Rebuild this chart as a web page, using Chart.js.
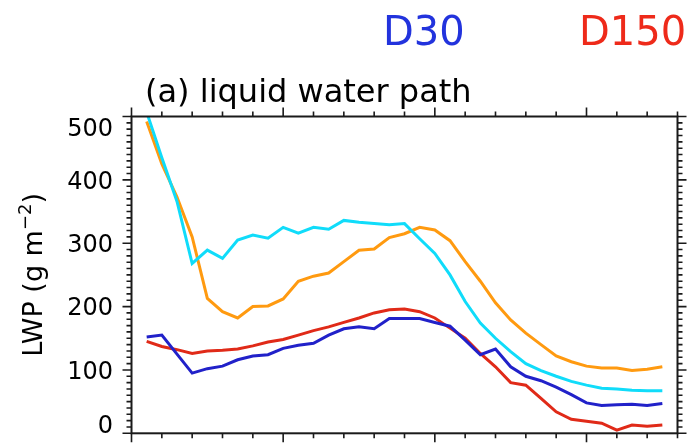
<!DOCTYPE html>
<html>
<head>
<meta charset="utf-8">
<script src="https://cdn.jsdelivr.net/npm/chart.js@4/dist/chart.umd.min.js"></script>
<style>
  html, body { margin: 0; padding: 0; background: #ffffff; }
  #wrap { width: 696px; height: 443px; position: relative; }
</style>
</head>
<body>
<div id="wrap"><canvas id="lwp" width="696" height="443"></canvas></div>
<script>
// Simulation time (h) of each sample
const hours = [1, 2, 3, 4, 5, 6, 7, 8, 9, 10, 11, 12, 13, 14, 15, 16, 17, 18,
               19, 20, 21, 22, 23, 24, 25, 26, 27, 28, 29, 30, 31, 32, 33, 34, 35];

// Liquid water path (g m-2)
const lwpD30 = [152, 155, 125, 95, 102, 106, 116, 122, 124, 134, 139, 142, 155, 165, 168, 165, 181, 181,
                181, 175, 169, 147, 124, 133, 105, 90, 83, 73, 61, 48, 44, 45, 46, 44, 47];
const lwpD150 = [145, 137, 132, 126, 130, 131, 133, 138, 144, 148, 155, 162, 168, 175, 182, 190, 195, 196,
                 192, 182, 166, 150, 126, 105, 80, 76, 55, 34, 22, 19, 16, 5, 13, 11, 13];
const lwpD30b = [507, 435, 366, 268, 289, 276, 305, 313, 308, 325, 316, 325, 322, 336, 333, 331, 329, 331,
                 307, 284, 250, 208, 174, 150, 129, 110, 99, 90, 82, 76, 71, 70, 68, 67, 67];
const lwpD150b = [492, 425, 373, 310, 213, 192, 182, 200, 201, 212, 240, 248, 253, 271, 289, 291, 309, 315,
                  325, 321, 304, 271, 240, 206, 179, 158, 140, 122, 113, 106, 103, 103, 99, 101, 105];

// Axis ticks
const yTickLabels = [0, 100, 200, 300, 400, 500];
const yMinorStep = 10;
const xMajorTicks = [0, 10, 20, 30];
const xMinorStep = 2;
const xRange = [0, 36];
const yRange = [0, 500];

const FONT = '"DejaVu Sans", sans-serif';

function points(values) {
  return hours.map((h, i) => ({ x: h, y: values[i] }));
}

// Frame with outward ticks on all four sides, tick labels, titles
const framePlugin = {
  id: 'frame',
  afterDraw(chart) {
    const ctx = chart.ctx;
    const a = chart.chartArea;
    const xs = chart.scales.x;
    const ys = chart.scales.y;
    const majorLen = 9, minorLen = 5;
    ctx.save();
    ctx.strokeStyle = '#1a1a1a';
    ctx.lineWidth = 2;
    ctx.strokeRect(a.left, a.top, a.right - a.left, a.bottom - a.top);

    ctx.lineWidth = 1.6;
    ctx.beginPath();
    for (let v = xRange[0]; v <= xRange[1]; v += xMinorStep) {
      const px = xs.getPixelForValue(v);
      const len = xMajorTicks.includes(v) ? majorLen : minorLen;
      ctx.moveTo(px, a.top); ctx.lineTo(px, a.top - len);
      ctx.moveTo(px, a.bottom); ctx.lineTo(px, a.bottom + len);
    }
    for (let v = yRange[0]; v <= yRange[1]; v += yMinorStep) {
      const py = ys.getPixelForValue(v);
      const len = yTickLabels.includes(v) ? majorLen : minorLen;
      ctx.moveTo(a.left, py); ctx.lineTo(a.left - len, py);
      ctx.moveTo(a.right, py); ctx.lineTo(a.right + len, py);
    }
    ctx.stroke();

    // y tick labels, end labels kept inside the axis span
    ctx.fillStyle = '#000';
    ctx.font = '24px ' + FONT;
    ctx.textAlign = 'right';
    ctx.textBaseline = 'alphabetic';
    const cap = 17.5;
    yTickLabels.forEach(v => {
      const py = ys.getPixelForValue(v);
      let base = py + cap / 2;
      if (v === yRange[1]) base = py + 2 + cap;
      if (v === yRange[0]) base = py;
      ctx.fillText(String(v), 113, base);
    });

    // panel title
    ctx.textAlign = 'left';
    ctx.font = '32px ' + FONT;
    ctx.fillText('(a) liquid water path', 145, 102);

    // run labels
    ctx.font = '40px ' + FONT;
    ctx.fillStyle = '#2233dd';
    ctx.fillText('D30', 383, 45);
    ctx.fillStyle = '#ee2a1a';
    ctx.fillText('D150', 579, 45);

    // y axis title with superscript exponent
    ctx.fillStyle = '#000';
    ctx.translate(41.5, (a.top + a.bottom) / 2);
    ctx.rotate(-Math.PI / 2);
    const mainFont = '27px ' + FONT, supFont = '18px ' + FONT;
    const parts = [
      { t: 'LWP (g m', f: mainFont, dy: 0 },
      { t: '\u22122', f: supFont, dy: -11 },
      { t: ')', f: mainFont, dy: 0 }
    ];
    let total = 0;
    parts.forEach(p => { ctx.font = p.f; p.w = ctx.measureText(p.t).width; total += p.w; });
    let x = -total / 2;
    parts.forEach(p => { ctx.font = p.f; ctx.fillText(p.t, x, p.dy); x += p.w; });
    ctx.restore();
  }
};

const lineStyle = { borderWidth: 3, pointRadius: 0, tension: 0, fill: false, clip: 0 };

new Chart(document.getElementById('lwp'), {
  type: 'line',
  data: {
    datasets: [
      { label: 'D30', data: points(lwpD30), borderColor: '#2121c9', ...lineStyle },
      { label: 'D150', data: points(lwpD150), borderColor: '#e02a18', ...lineStyle },
      { label: 'D30 b', data: points(lwpD30b), borderColor: '#10dcfa', ...lineStyle },
      { label: 'D150 b', data: points(lwpD150b), borderColor: '#ff9a10', ...lineStyle }
    ]
  },
  options: {
    responsive: false,
    animation: false,
    devicePixelRatio: 1,
    layout: { padding: { left: 131.5, right: 18.5, top: 116.5, bottom: 9.7 } },
    plugins: { legend: { display: false }, tooltip: { enabled: false }, title: { display: false } },
    scales: {
      x: { type: 'linear', min: xRange[0], max: xRange[1], display: false },
      y: { type: 'linear', min: yRange[0], max: yRange[1], display: false }
    }
  },
  plugins: [framePlugin]
});
</script>
</body>
</html>
